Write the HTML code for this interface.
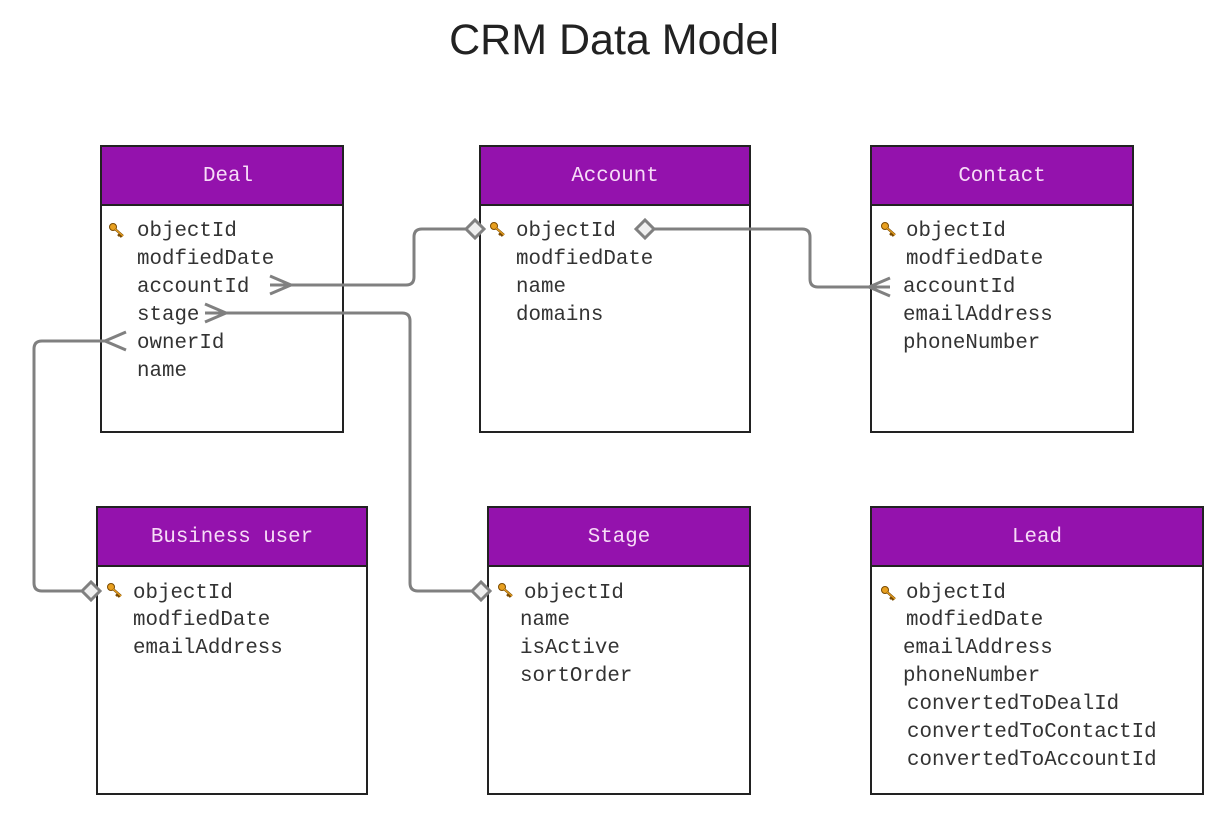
<!DOCTYPE html>
<html><head><meta charset="utf-8"><style>
html,body{margin:0;padding:0;background:#fff;width:1223px;height:817px;overflow:hidden}
svg text{font-family:"Liberation Mono",monospace}
</style></head><body>
<svg width="1223" height="817" xmlns="http://www.w3.org/2000/svg">
<defs>
<g id="key"><circle cx="4" cy="4" r="3.5" fill="#e8a020" stroke="#7a4a00" stroke-width="1"/><path d="M6 6 L14 13 M11 11 L9 13 M13 12 L11 14" stroke="#7a4a00" stroke-width="2.4" fill="none"/><path d="M6 6 L14 13" stroke="#e8a020" stroke-width="1.2"/></g>
</defs>
<text x="614" y="54" text-anchor="middle" style="font-family:'Liberation Sans',sans-serif" font-size="43" fill="#222">CRM Data Model</text>
<g stroke="#222" stroke-width="2">
<rect x="101" y="146" width="242" height="286" fill="#fff"/><rect x="101" y="146" width="242" height="59" fill="#9412ad"/>
<rect x="480" y="146" width="270" height="286" fill="#fff"/><rect x="480" y="146" width="270" height="59" fill="#9412ad"/>
<rect x="871" y="146" width="262" height="286" fill="#fff"/><rect x="871" y="146" width="262" height="59" fill="#9412ad"/>
<rect x="97" y="507" width="270" height="287" fill="#fff"/><rect x="97" y="507" width="270" height="59" fill="#9412ad"/>
<rect x="488" y="507" width="262" height="287" fill="#fff"/><rect x="488" y="507" width="262" height="59" fill="#9412ad"/>
<rect x="871" y="507" width="332" height="287" fill="#fff"/><rect x="871" y="507" width="332" height="59" fill="#9412ad"/>
</g>
<g fill="#f7dcf7" font-size="20.8" text-anchor="middle">
<text x="228" y="181">Deal</text><text x="615" y="181">Account</text><text x="1002" y="181">Contact</text>
<text x="232" y="542">Business user</text><text x="619" y="542">Stage</text><text x="1037" y="542">Lead</text>
</g>
<g fill="#333" font-size="20.8">
<text x="137" y="236">objectId</text><text x="137" y="264">modfiedDate</text><text x="137" y="292">accountId</text><text x="137" y="320">stage</text><text x="137" y="348">ownerId</text><text x="137" y="376">name</text>
<text x="516" y="236">objectId</text><text x="516" y="264">modfiedDate</text><text x="516" y="292">name</text><text x="516" y="320">domains</text>
<text x="906" y="236">objectId</text><text x="906" y="264">modfiedDate</text><text x="903" y="292">accountId</text><text x="903" y="320">emailAddress</text><text x="903" y="348">phoneNumber</text>
<text x="133" y="598">objectId</text><text x="133" y="625">modfiedDate</text><text x="133" y="653">emailAddress</text>
<text x="524" y="598">objectId</text><text x="520" y="625">name</text><text x="520" y="653">isActive</text><text x="520" y="681">sortOrder</text>
<text x="906" y="598">objectId</text><text x="906" y="625">modfiedDate</text><text x="903" y="653">emailAddress</text><text x="903" y="681">phoneNumber</text><text x="907" y="709">convertedToDealId</text><text x="907" y="737">convertedToContactId</text><text x="907" y="765">convertedToAccountId</text>
</g>
<use href="#key" x="109" y="223"/><use href="#key" x="490" y="222"/><use href="#key" x="881" y="222"/>
<use href="#key" x="107" y="583"/><use href="#key" x="498" y="583"/><use href="#key" x="881" y="586"/>
<g stroke="#808080" stroke-width="3" fill="none" stroke-linejoin="round">
<path d="M270 285 H406 Q414 285 414 277 V237 Q414 229 422 229 H466"/>
<path d="M270 276 L291 285 L270 294"/>
<path d="M205 313 H402 Q410 313 410 321 V583 Q410 591 418 591 H472"/>
<path d="M205 304 L226 313 L205 322"/>
<path d="M105 341 H42 Q34 341 34 349 V583 Q34 591 42 591 H82"/>
<path d="M126 332 L105 341 L126 350"/>
<path d="M654 229 H802 Q810 229 810 237 V279 Q810 287 818 287 H890"/>
<path d="M890 278 L869 287 L890 296"/>
</g>
<g stroke="#808080" stroke-width="3" fill="#f0f0f0">
<path d="M466 229 L475 220 L484 229 L475 238 Z"/>
<path d="M472 591 L481 582 L490 591 L481 600 Z"/>
<path d="M82 591 L91 582 L100 591 L91 600 Z"/>
<path d="M636 229 L645 220 L654 229 L645 238 Z"/>
</g>
</svg>
</body></html>
